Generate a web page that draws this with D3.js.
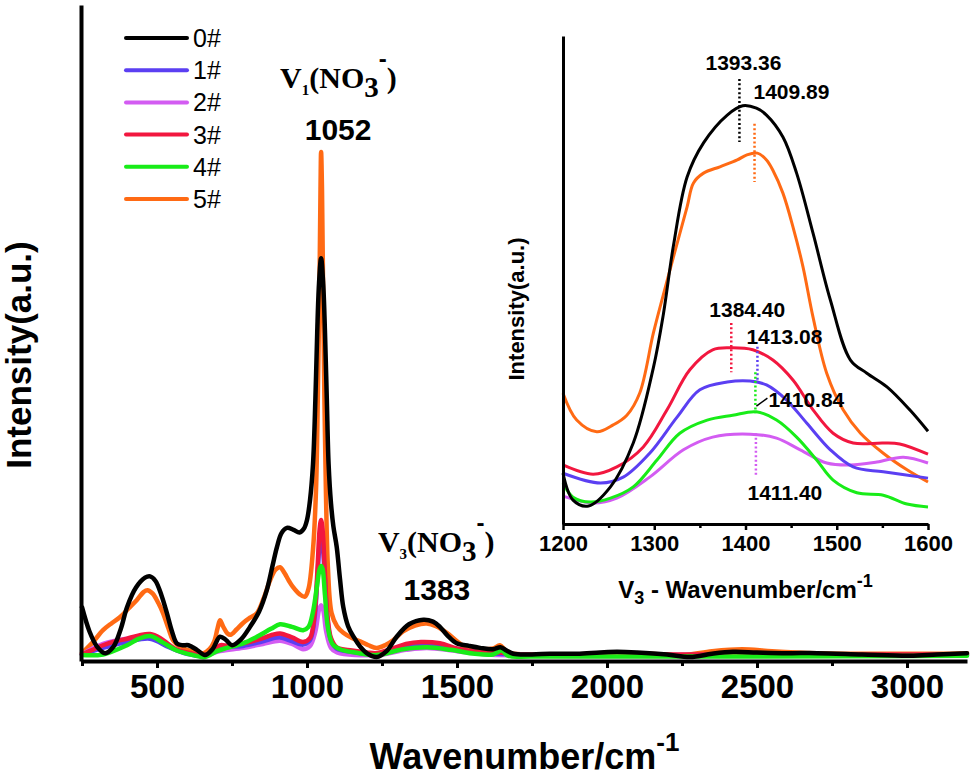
<!DOCTYPE html>
<html>
<head>
<meta charset="utf-8">
<script src="https://cdn.jsdelivr.net/npm/d3@7"></script>
<style>
    body { margin: 0; background: #fff; }
    svg { display: block; font-family: "Liberation Sans", Arial, sans-serif; }
</style>
</head>
<body>
<div id="chart"></div>
<script>
const width = 973;
const height = 778;

// samples: 0# .. 5#
const names = ['0#', '1#', '2#', '3#', '4#', '5#'];
const colors = ['#000000', '#5b3ff2', '#d35cf2', '#f2173f', '#18ec18', '#ff6a14'];
const drawOrder = [5, 2, 1, 3, 4, 0];

// main spectrum, [wavenumber, intensity a.u.]
const main0 = [[250, 8.2], [275, 4.5], [300, 2.2], [327, 1.2], [355, 2.2], [380, 5.0], [400, 8.2], [430, 11.2],
    [460, 12.7], [477, 12.9], [495, 12.2], [515, 10.0], [533, 7.3], [550, 4.5], [566, 2.7], [585, 2.4], [605, 2.4],
    [633, 1.7], [660, 0.9], [685, 1.8], [710, 3.7], [730, 3.2], [750, 2.4], [780, 3.3], [810, 5.2], [840, 7.5],
    [866, 10.8], [885, 14.5], [900, 17.4], [915, 19.5], [933, 20.3], [955, 20.0], [975, 19.6], [990, 20.2],
    [1000, 21.5], [1010, 24.5], [1020, 30], [1028, 40], [1034, 50], [1040, 57.5], [1047, 61.4], [1054, 57.5],
    [1060, 50], [1066, 40], [1072, 30], [1080, 24], [1088, 20.5], [1099, 17.4], [1110, 12.5], [1121, 8.2],
    [1137, 5.3], [1155, 3.7], [1177, 2.2], [1199, 1.2], [1232, 0.6], [1265, 1.5], [1299, 3.7], [1340, 5.6],
    [1388, 6.3], [1420, 6.0], [1443, 5.2], [1470, 3.8], [1499, 2.7], [1540, 2.3], [1577, 2.0], [1620, 1.8],
    [1645, 2.1], [1665, 1.6], [1688, 1.1], [1750, 1.0], [1810, 1.1], [1900, 1.1], [1977, 1.3], [2033, 1.4],
    [2100, 1.3], [2200, 1.0], [2277, 0.6], [2350, 1.1], [2420, 1.4], [2500, 1.3], [2600, 1.2], [2700, 1.2],
    [2850, 1.0], [3010, 0.8], [3100, 1.0], [3200, 1.2]];
const main1 = [[250, 1.0], [320, 2.0], [400, 2.9], [477, 3.4], [540, 2.1], [600, 1.1], [655, 0.8], [710, 2.0],
    [787, 2.3], [853, 3.0], [910, 3.6], [987, 2.5], [1010, 3.2], [1025, 6.5], [1035, 13], [1042, 18], [1047, 19.5],
    [1052, 18], [1059, 13], [1068, 6.5], [1080, 3.2], [1099, 1.9], [1150, 1.4], [1232, 1.1], [1330, 2.3],
    [1400, 2.6], [1500, 1.7], [1600, 1.2], [1700, 1.0], [2500, 0.9], [3200, 0.9]];
const main2 = [[250, 1.0], [320, 2.6], [400, 3.4], [477, 3.8], [540, 2.2], [600, 1.2], [655, 0.8], [710, 1.5],
    [787, 2.0], [853, 2.6], [910, 3.1], [950, 2.6], [987, 1.8], [1010, 2.3], [1028, 4.5], [1040, 7.8], [1047, 8.5],
    [1054, 7.8], [1064, 4.5], [1080, 2.0], [1100, 1.3], [1232, 0.9], [1330, 1.7], [1400, 2.0], [1500, 1.5],
    [1600, 1.0], [2500, 0.8], [3200, 0.9]];
const main3 = [[250, 1.0], [290, 1.8], [320, 2.4], [360, 3.0], [400, 3.4], [440, 3.9], [477, 4.1], [510, 3.5],
    [540, 2.5], [566, 1.7], [600, 1.3], [655, 0.9], [690, 1.5], [710, 2.4], [740, 2.3], [787, 2.7], [853, 3.5],
    [885, 4.0], [910, 4.2], [950, 3.6], [987, 2.9], [1010, 3.5], [1025, 7], [1035, 14], [1042, 20], [1047, 21.5],
    [1052, 20], [1059, 14], [1068, 7], [1080, 3.5], [1099, 2.1], [1150, 1.6], [1200, 1.3], [1232, 1.2],
    [1280, 1.8], [1330, 2.6], [1380, 2.9], [1443, 2.7], [1500, 1.9], [1560, 1.4], [1640, 1.3], [1700, 1.0],
    [2000, 1.0], [2500, 1.0], [3200, 1.0]];
const main4 = [[250, 0.9], [320, 1.0], [400, 2.4], [440, 3.4], [477, 3.8], [520, 2.8], [566, 1.6], [620, 0.9],
    [660, 0.6], [700, 1.5], [733, 2.0], [787, 2.7], [833, 3.7], [880, 4.9], [910, 5.6], [950, 5.2], [987, 4.7],
    [1005, 5.2], [1020, 7.5], [1032, 11], [1042, 14], [1047, 14.5], [1052, 14], [1060, 10], [1070, 5], [1085, 2.6],
    [1110, 1.8], [1160, 1.3], [1232, 0.9], [1320, 1.8], [1400, 2.1], [1480, 1.7], [1560, 1.1], [1620, 1.0],
    [1650, 1.6], [1670, 0.8], [1750, 0.7], [2500, 0.7], [3200, 0.8]];
const main5 = [[250, 1.2], [285, 2.8], [320, 4.7], [350, 5.8], [377, 6.7], [405, 8.0], [433, 9.3], [455, 10.5],
    [468, 10.8], [485, 10.3], [505, 8.8], [520, 7.3], [538, 5.0], [553, 3.2], [575, 2.2], [600, 1.7], [630, 1.4],
    [655, 1.2], [675, 1.8], [690, 2.9], [702, 5.0], [710, 6.2], [720, 5.3], [735, 4.2], [745, 4.0], [765, 4.8],
    [787, 5.8], [810, 6.6], [833, 7.3], [855, 9.5], [877, 12.3], [895, 13.9], [910, 14.3], [925, 13.4], [940, 12.2],
    [953, 11.3], [975, 10.2], [993, 9.8], [1005, 11], [1020, 17], [1030, 26], [1036, 40], [1041, 55], [1045, 72],
    [1047, 77.6], [1050, 72], [1054, 55], [1058, 40], [1063, 26], [1070, 14], [1082, 7.3], [1100, 5.3],
    [1121, 4.3], [1150, 3.5], [1177, 3.0], [1205, 2.4], [1232, 2.0], [1260, 2.4], [1288, 3.2], [1320, 4.5],
    [1360, 5.4], [1399, 5.7], [1430, 5.3], [1466, 4.3], [1500, 3.0], [1533, 2.0], [1580, 1.8], [1620, 1.9],
    [1643, 2.4], [1660, 1.7], [1680, 1.2], [1750, 1.0], [1900, 1.0], [2000, 1.2], [2100, 1.2], [2250, 0.9],
    [2350, 1.5], [2450, 1.8], [2550, 1.5], [2700, 1.2], [2900, 1.1], [3100, 1.1], [3200, 1.2]];

// inset, V3 region 1200-1600
const inset0 = [[1200, 10.4], [1211, 4.9], [1228, 3.7], [1252, 7.6], [1277, 16.6], [1299, 32], [1310, 43],
    [1321, 57], [1336, 71.1], [1354, 78.1], [1380, 83.8], [1397, 85.7], [1412, 85.2], [1423, 83.8], [1441, 79.3],
    [1456, 71.9], [1474, 59.6], [1493, 45.9], [1515, 33.6], [1533, 30.9], [1555, 28.1], [1580, 23.4], [1600, 19.0]];
const inset1 = [[1200, 10.4], [1241, 8.4], [1266, 9.6], [1295, 14.5], [1325, 21.9], [1350, 27.5], [1380, 29.1],
    [1405, 29.3], [1423, 28.5], [1445, 25.4], [1467, 20.7], [1493, 15.2], [1518, 11.7], [1551, 10.7], [1600, 9.4]];
const inset2 = [[1200, 5.7], [1233, 4.3], [1259, 5.3], [1295, 9.6], [1332, 15.2], [1364, 17.8], [1405, 18.4],
    [1434, 17.6], [1460, 15.2], [1489, 12.5], [1515, 12.1], [1544, 12.7], [1573, 13.7], [1600, 12.5]];
const inset3 = [[1200, 12.1], [1233, 10.2], [1259, 11.7], [1288, 15.8], [1314, 23.4], [1339, 31.6], [1364, 35.7],
    [1386, 36.1], [1408, 35.7], [1430, 33.6], [1452, 29.5], [1474, 23.4], [1496, 18.6], [1518, 16.6], [1551, 16.6],
    [1569, 16.4], [1600, 14.3]];
const inset4 = [[1200, 8.4], [1211, 5.5], [1230, 4.5], [1252, 5.3], [1277, 7.6], [1303, 13.1], [1328, 18.6],
    [1358, 21.3], [1386, 22.3], [1412, 23.0], [1434, 21.3], [1456, 17.8], [1478, 13.1], [1496, 9.0], [1522, 6.4],
    [1551, 5.9], [1577, 4.1], [1600, 3.5]];
const inset5 = [[1200, 26.8], [1215, 21.3], [1237, 18.9], [1255, 20.3], [1270, 22.3], [1284, 26.8], [1299, 39.1],
    [1310, 47], [1321, 54.7], [1336, 65.0], [1343, 69.9], [1354, 71.9], [1372, 73.2], [1391, 74.6], [1401, 75.6],
    [1413, 76.0], [1423, 74.6], [1430, 72.5], [1441, 67.8], [1452, 60.9], [1463, 52.7], [1474, 42.4], [1489, 30.9],
    [1507, 23.4], [1526, 18.6], [1551, 14.5], [1577, 11.1], [1600, 8.6]];

const mainSeries = [main0, main1, main2, main3, main4, main5];
const insetSeries = [inset0, inset1, inset2, inset3, inset4, inset5];

// peak positions marked in the inset (per sample), with dotted marker extent
const peakWn = [1393.36, 1413.08, 1411.40, 1384.40, 1410.84, 1409.89];
const peakTop = [91.2, 36.3, 18.6, 41.2, 31.1, 82.0];
const peakBottom = [78.3, 28.9, 10.0, 31.1, 22.7, 70.1];

const mainTicks = [500, 1000, 1500, 2000, 2500, 3000];
const mainMinorTicks = [250, 750, 1250, 1750, 2250, 2750];
const insetTicks = [1200, 1300, 1400, 1500, 1600];
const insetMinorTicks = [1250, 1350, 1450, 1550];

const svg = d3.select('#chart')
    .append('svg')
    .attr('width', width)
    .attr('height', height)
    .attr('viewBox', `0 0 ${width} ${height}`);

// ---------- main plot ----------
const x = d3.scaleLinear().domain([250, 3200]).range([82, 967]);
const y = d3.scaleLinear().domain([0, 100]).range([661, 5]);

const line = d3.line()
    .x(d => x(d[0]))
    .y(d => y(d[1]))
    .curve(d3.curveCatmullRom.alpha(0.5));

svg.append('g')
    .attr('class', 'curves')
    .selectAll('path')
    .data(drawOrder)
    .join('path')
    .attr('d', i => line(mainSeries[i]))
    .attr('fill', 'none')
    .attr('stroke', i => colors[i])
    .attr('stroke-width', 4.5)
    .attr('stroke-linejoin', 'round')
    .attr('stroke-linecap', 'round');

const xMinor = svg.append('g')
    .attr('transform', `translate(0, ${y(0)})`)
    .call(d3.axisBottom(x).tickValues(mainMinorTicks).tickSize(5).tickSizeOuter(0).tickFormat(''));
xMinor.select('.domain').remove();

const xAxis = svg.append('g')
    .attr('transform', `translate(0, ${y(0)})`)
    .call(d3.axisBottom(x).tickValues(mainTicks).tickFormat(d3.format('d'))
        .tickSize(7).tickSizeOuter(0).tickPadding(7));

svg.append('g')
    .attr('transform', `translate(${x(250) - 1}, 0)`)
    .call(d3.axisLeft(y).ticks(0).tickSizeOuter(0));

svg.selectAll('.domain').attr('stroke-width', 4).attr('stroke', '#000');
svg.selectAll('.tick line').attr('stroke-width', 3).attr('stroke', '#000');
xAxis.selectAll('.tick text')
    .attr('font-size', 33)
    .attr('font-weight', 'bold')
    .attr('fill', '#000')
    .attr('font-family', '"Liberation Sans", Arial, sans-serif');

svg.append('text')
    .attr('x', (x.range()[0] + x.range()[1]) / 2)
    .attr('y', 769)
    .attr('text-anchor', 'middle')
    .attr('font-size', 36)
    .attr('font-weight', 'bold')
    .call(t => {
        t.append('tspan').text('Wavenumber/cm');
        t.append('tspan').attr('font-size', 26).attr('dy', -18).text('-1');
    });

svg.append('text')
    .attr('transform', `translate(31, 355) rotate(-90)`)
    .attr('text-anchor', 'middle')
    .attr('font-size', 35)
    .attr('font-weight', 'bold')
    .text('Intensity(a.u.)');

// legend
const legend = svg.append('g')
    .attr('transform', 'translate(126, 38)');

const legendItem = legend.selectAll('g')
    .data(names)
    .join('g')
    .attr('transform', (d, i) => `translate(0, ${i * 32.2})`);

legendItem.append('line')
    .attr('x1', 0).attr('x2', 61)
    .attr('stroke', (d, i) => colors[i])
    .attr('stroke-width', 4)
    .attr('stroke-linecap', 'round');

legendItem.append('text')
    .attr('x', 67)
    .attr('y', 9)
    .attr('font-size', 25)
    .text(d => d);

// band annotations
function bandLabel(xStart, base, sub) {
    const t = svg.append('text')
        .attr('x', xStart)
        .attr('y', base)
        .attr('font-family', '"Liberation Serif", "Times New Roman", serif')
        .attr('font-weight', 'bold')
        .attr('font-size', 30);
    t.append('tspan').text('V');
    t.append('tspan').attr('font-size', 15).attr('dy', 7).text(sub);
    t.append('tspan').attr('dy', -7).text('(NO');
    t.append('tspan').attr('font-size', 29).attr('dy', 9).text('3');
    t.append('tspan').attr('font-size', 24)
        .attr('font-family', '"Liberation Sans", Arial, sans-serif').attr('dy', -30).text('-');
    t.append('tspan').attr('dy', 21).text(')');
}

bandLabel(x(1047) - 41, 88, '1');
svg.append('text')
    .attr('x', x(1047) + 17)
    .attr('y', 140)
    .attr('text-anchor', 'middle')
    .attr('font-size', 30)
    .attr('font-weight', 'bold')
    .text('1052');

bandLabel(x(1383) - 44, 552, '3');
svg.append('text')
    .attr('x', x(1383) + 15)
    .attr('y', 600)
    .attr('text-anchor', 'middle')
    .attr('font-size', 30)
    .attr('font-weight', 'bold')
    .text('1383');

// ---------- inset ----------
const xi = d3.scaleLinear().domain([1200, 1600]).range([563, 928]);
const yi = d3.scaleLinear().domain([0, 100]).range([524, 36]);

const lineInset = d3.line()
    .x(d => xi(d[0]))
    .y(d => yi(d[1]))
    .curve(d3.curveCatmullRom.alpha(0.5));

const inset = svg.append('g').attr('class', 'inset');

inset.selectAll('path.curve')
    .data(drawOrder)
    .join('path')
    .attr('class', 'curve')
    .attr('d', i => lineInset(insetSeries[i]))
    .attr('fill', 'none')
    .attr('stroke', i => colors[i])
    .attr('stroke-width', 3)
    .attr('stroke-linejoin', 'round');

// dotted peak markers
inset.selectAll('line.peak')
    .data(d3.range(6))
    .join('line')
    .attr('class', 'peak')
    .attr('x1', i => xi(peakWn[i]))
    .attr('x2', i => xi(peakWn[i]))
    .attr('y1', i => yi(peakTop[i]))
    .attr('y2', i => yi(peakBottom[i]))
    .attr('stroke', i => colors[i])
    .attr('stroke-width', 2.5)
    .attr('stroke-dasharray', '2,2.4');

// label placement: [dx, y relative to marker, anchor]
const peakLabelPos = [
    { dx: 4, from: 'top', dy: -9, anchor: 'middle' },
    { dx: -11, from: 'top', dy: -3, anchor: 'start' },
    { dx: 29, from: 'bottom', dy: 25, anchor: 'middle' },
    { dx: 16, from: 'top', dy: -6, anchor: 'middle' },
    { dx: 13, from: 'bottom', dy: -6, anchor: 'start' },
    { dx: -1, from: 'top', dy: -25, anchor: 'start' },
];

inset.selectAll('text.peak')
    .data(d3.range(6))
    .join('text')
    .attr('class', 'peak')
    .attr('x', i => xi(peakWn[i]) + peakLabelPos[i].dx)
    .attr('y', i => yi(peakLabelPos[i].from === 'top' ? peakTop[i] : peakBottom[i]) + peakLabelPos[i].dy)
    .attr('text-anchor', i => peakLabelPos[i].anchor)
    .attr('font-size', 21)
    .attr('font-weight', 'bold')
    .text(i => peakWn[i].toFixed(2));

// leader for 1410.84
inset.append('line')
    .attr('x1', xi(peakWn[4]) + 1)
    .attr('y1', yi(peakBottom[4]) - 7)
    .attr('x2', xi(peakWn[4]) + 12)
    .attr('y2', yi(peakBottom[4]) - 15)
    .attr('stroke', '#000')
    .attr('stroke-width', 1.5);

const xiMinor = inset.append('g')
    .attr('transform', `translate(0, ${yi(0)})`)
    .call(d3.axisBottom(xi).tickValues(insetMinorTicks).tickSize(4).tickSizeOuter(0).tickFormat(''));
xiMinor.select('.domain').remove();

const xiAxis = inset.append('g')
    .attr('transform', `translate(0, ${yi(0)})`)
    .call(d3.axisBottom(xi).tickValues(insetTicks).tickFormat(d3.format('d'))
        .tickSize(6).tickSizeOuter(0).tickPadding(5));

inset.append('g')
    .attr('transform', `translate(${xi(1200)}, 0)`)
    .call(d3.axisLeft(yi).ticks(0).tickSizeOuter(0));

inset.selectAll('.domain').attr('stroke-width', 3).attr('stroke', '#000');
inset.selectAll('.tick line').attr('stroke-width', 2.5).attr('stroke', '#000');
xiAxis.selectAll('.tick text')
    .attr('font-size', 22)
    .attr('font-weight', 'bold')
    .attr('fill', '#000')
    .attr('font-family', '"Liberation Sans", Arial, sans-serif');

inset.append('text')
    .attr('x', (xi.range()[0] + xi.range()[1]) / 2)
    .attr('y', 598)
    .attr('text-anchor', 'middle')
    .attr('font-size', 24)
    .attr('font-weight', 'bold')
    .call(t => {
        t.append('tspan').text('V');
        t.append('tspan').attr('font-size', 18).attr('dy', 6).text('3');
        t.append('tspan').attr('dy', -6).text(' - Wavenumber/cm');
        t.append('tspan').attr('font-size', 18).attr('dy', -11).text('-1');
    });

inset.append('text')
    .attr('transform', `translate(524, 309) rotate(-90)`)
    .attr('text-anchor', 'middle')
    .attr('font-size', 22)
    .attr('font-weight', 'bold')
    .text('Intensity(a.u.)');
</script>
</body>
</html>
